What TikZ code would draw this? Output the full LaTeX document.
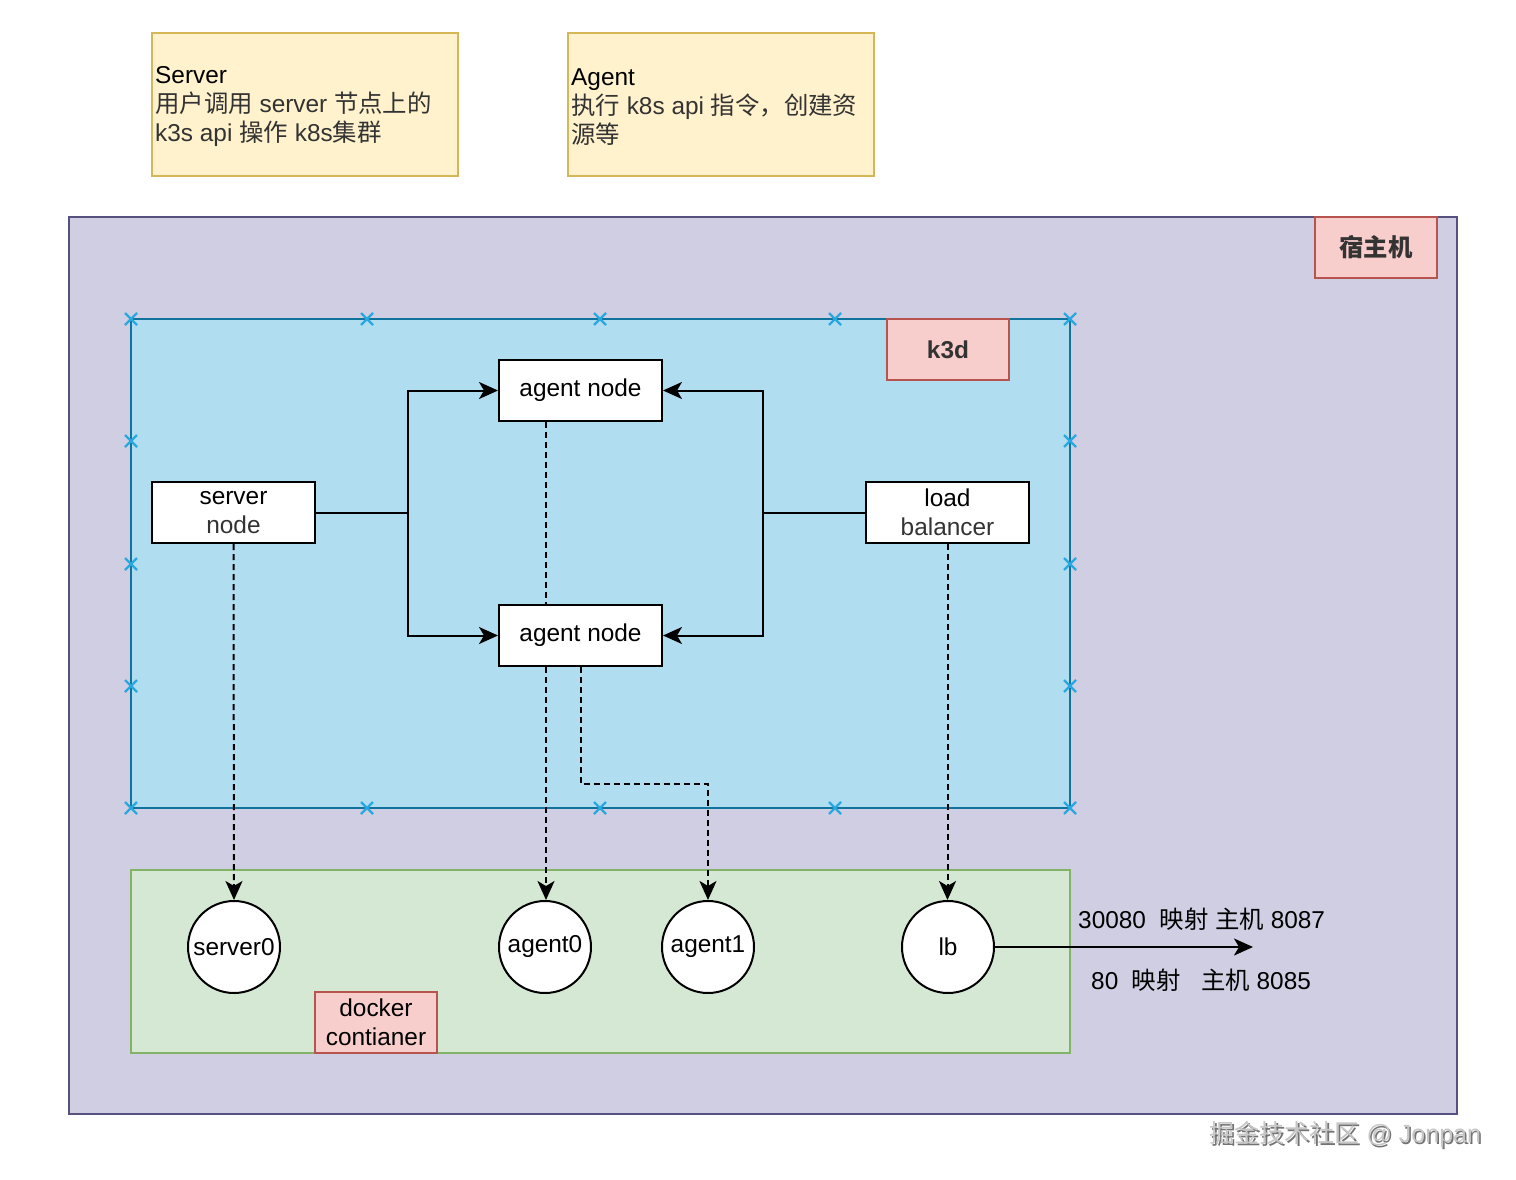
\documentclass[tikz,border=0pt]{standalone}
\usepackage{fontspec}
\setmainfont{Liberation Sans}
\newfontfamily\cjk{Noto Sans CJK SC}
\usetikzlibrary{arrows.meta}
\definecolor{hostfill}{HTML}{D0CEE2}
\definecolor{hostline}{HTML}{56517E}
\definecolor{kfill}{HTML}{B1DDF0}
\definecolor{kline}{HTML}{10739E}
\definecolor{gfill}{HTML}{D5E8D4}
\definecolor{gline}{HTML}{82B366}
\definecolor{rfill}{HTML}{F8CECC}
\definecolor{rline}{HTML}{B85450}
\definecolor{yfill}{HTML}{FFF2CC}
\definecolor{yline}{HTML}{D6B656}
\definecolor{xmk}{HTML}{29A8E0}
\definecolor{dgray}{HTML}{333333}
\begin{document}
\begin{tikzpicture}[x=1pt,y=-1pt,
  every node/.style={font=\fontsize{24.4}{29}\selectfont},
  area/.style={draw, line width=2pt, inner sep=0pt},
  tag/.style={draw=rline, fill=rfill, line width=2pt, inner sep=0pt, minimum width=122pt, minimum height=61pt, align=center},
  notebox/.style={draw=yline, fill=yfill, line width=2pt, inner sep=0pt, minimum width=306pt, minimum height=143pt},
  nodebox/.style={draw=black, fill=white, line width=2pt, inner sep=0pt, minimum width=163pt, minimum height=61pt, align=center},
  ctr/.style={circle, draw=black, fill=white, line width=2pt, inner sep=0pt, minimum size=92pt},
  conn/.style={line width=2pt, draw=black},
  arr/.style={conn, -{Stealth[length=19pt,width=17pt,inset=5pt]}},
  dsh/.style={dash pattern=on 6pt off 4pt},
  xmark/.style={draw=xmk, line width=2.2pt}
]
\useasboundingbox (0,0) rectangle (1516,1180);

% notes
\node[notebox] (srvnote) at (305,104.5) {};
\node[anchor=west, align=left, inner sep=0pt] (srvnotetxt) at (155,107) {Server\\\textcolor{dgray}{{\cjk 用户调用} server {\cjk 节点上的}}\\\textcolor{dgray}{k3s api {\cjk 操作} k8s{\cjk 集群}}};
\node[notebox] (agnote) at (721,104.5) {};
\node[anchor=west, align=left, inner sep=0pt] (agnotetxt) at (571,107) {Agent\\\textcolor{dgray}{{\cjk 执行} k8s api {\cjk 指令，创建资}}\\\textcolor{dgray}{\cjk 源等}};

% host
\node[area, draw=hostline, fill=hostfill, minimum width=1388pt, minimum height=897pt] (host) at (763,665.5) {};
\node[tag, font=\fontsize{24.4}{29}\selectfont\bfseries] (hosttag) at (1376,247.5) {\textcolor{dgray}{\cjk 宿主机}};

% k3d
\node[area, draw=kline, fill=kfill, minimum width=939pt, minimum height=489pt] (k3d) at (600.5,563.5) {};
\foreach \x in {131,367,600,835,1070}{
  \draw[xmark] (\x-6,313) -- (\x+6,325) (\x-6,325) -- (\x+6,313);
  \draw[xmark] (\x-6,802) -- (\x+6,814) (\x-6,814) -- (\x+6,802);
}
\foreach \y in {441,564,686}{
  \draw[xmark] (125,\y-6) -- (137,\y+6) (125,\y+6) -- (137,\y-6);
  \draw[xmark] (1064,\y-6) -- (1076,\y+6) (1064,\y+6) -- (1076,\y-6);
}
\node[tag, font=\fontsize{24.4}{29}\selectfont\bfseries] (k3dtag) at (948,349.5) {\textcolor{dgray}{k3d}};

% docker area
\node[area, draw=gline, fill=gfill, minimum width=939pt, minimum height=183pt] (dock) at (600.5,961.5) {};
\node[tag] (docktag) at (376,1022.5) {docker\\contianer};

% k3d nodes
\node[nodebox] (srv) at (233.5,512.5) {server\\\textcolor{dgray}{node}};
\node[nodebox] (ag1) at (580.5,390.5) {agent node};
\node[nodebox] (ag2) at (580.5,635.5) {agent node};
\node[nodebox] (lbn) at (947.5,512.5) {load\\\textcolor{dgray}{balancer}};

% containers
\node[ctr] (s0) at (234,947) {server0};
\node[ctr] (a0) at (545,947) {agent0};
\node[ctr] (a1) at (708,947) {agent1};
\node[ctr] (lbc) at (948,947) {lb};

% connectors
\draw[conn] (srv.east) -- ++(92,0) coordinate (sj);
\draw[arr] (sj) |- (ag1.west);
\draw[arr] (sj) |- (ag2.west);
\draw[conn] (lbn.west) -- ++(-102,0) coordinate (lj);
\draw[arr] (lj) |- (ag1.east);
\draw[arr] (lj) |- (ag2.east);

\draw[arr, dsh] (srv.south) -- (s0.north);
\draw[conn, dsh] ([xshift=-34.5pt]ag1.south) -- ([xshift=-34.5pt]ag2.north);
\draw[arr, dsh] ([xshift=-34.5pt]ag2.south) -- ([xshift=-34.5pt]ag2.south |- a0.north);
\draw[arr, dsh] (ag2.south) -- ++(0,117) -| (a1.north);
\draw[arr, dsh] (lbn.south) -- (lbn.south |- lbc.north);

\coordinate (out) at (1253,947);
\draw[arr] (lbc.east) -- (out);
\node[anchor=west, inner sep=0pt] (m1) at (1078,919) {30080\ \ {\cjk 映射} {\cjk 主机} 8087};
\node[anchor=west, inner sep=0pt] (m2) at (1091,980) {80\ \ {\cjk 映射}\ \ \ {\cjk 主机} 8085};

% watermark
\node[anchor=west, inner sep=0pt, text=gray!90!black, font=\fontsize{25}{30}\selectfont] (wms) at (1211,1136) {{\cjk 掘金技术社区} @ Jonpan};
\node[anchor=west, inner sep=0pt, text=gray!45, font=\fontsize{25}{30}\selectfont] (wm) at (1209.5,1134.5) {{\cjk 掘金技术社区} @ Jonpan};
\end{tikzpicture}
\end{document}
